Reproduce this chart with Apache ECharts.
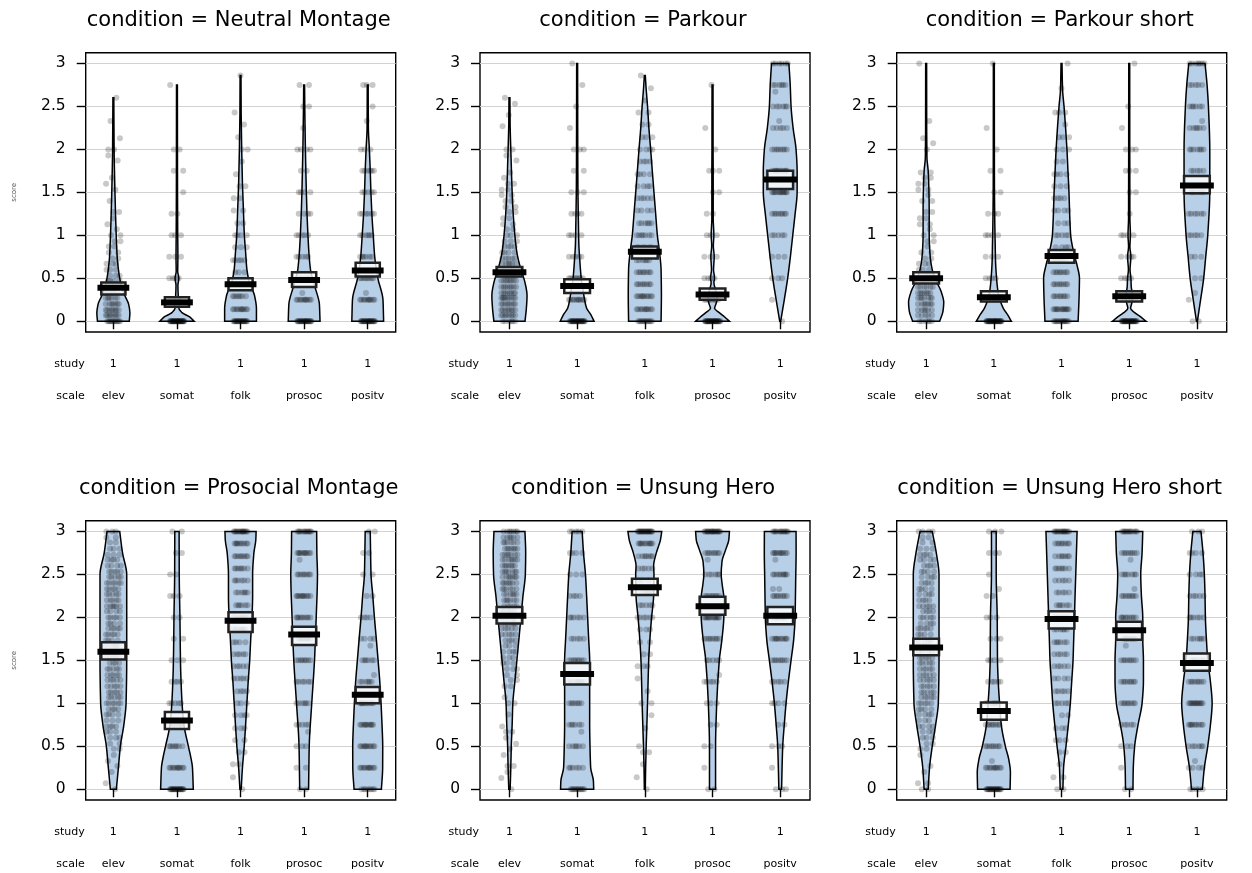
<!DOCTYPE html>
<html><head><meta charset="utf-8">
<script src="https://cdn.jsdelivr.net/npm/echarts@6/dist/echarts.min.js"></script>
<style>html,body{margin:0;padding:0;background:#fff}#c{width:1252px;height:873px}</style>
</head><body><div id="c"></div>
<script>
// ---------- DATA ----------
const conditions = ['Neutral Montage','Parkour','Parkour short','Prosocial Montage','Unsung Hero','Unsung Hero short'];
const scales = ['elev','somat','folk','prosoc','positv'];
const studies = ['1','1','1','1','1'];
const yTicks = [0,0.5,1,1.5,2,2.5,3];
const xTicks = [1,2,3,4,5];

const means = [
  [0.39,0.22,0.43,0.48,0.59],
  [0.57,0.41,0.81,0.31,1.65],
  [0.50,0.28,0.76,0.29,1.58],
  [1.60,0.80,1.96,1.80,1.10],
  [2.02,1.34,2.35,2.13,2.02],
  [1.65,0.91,1.98,1.85,1.47]
];
const ciLow = [
  [0.31,0.17,0.36,0.40,0.52],
  [0.52,0.33,0.73,0.25,1.54],
  [0.44,0.23,0.68,0.23,1.49],
  [1.51,0.70,1.83,1.68,1.00],
  [1.93,1.22,2.26,2.03,1.92],
  [1.56,0.81,1.87,1.74,1.38]
];
const ciHigh = [
  [0.45,0.28,0.50,0.57,0.68],
  [0.63,0.49,0.87,0.38,1.75],
  [0.57,0.35,0.83,0.35,1.69],
  [1.71,0.90,2.06,1.89,1.19],
  [2.12,1.47,2.45,2.24,2.12],
  [1.75,1.01,2.07,1.95,1.58]
];

// points: [score, number of respondents at that score]
const ptsNeutral = [
  [[0,12],[0.07,8],[0.13,8],[0.2,7],[0.27,6],[0.33,5],[0.4,5],[0.47,4],[0.53,3],[0.6,3],[0.67,3],[0.73,2],[0.8,2],[0.87,2],[0.93,2],[1,2],[1.07,1],[1.13,1],[1.2,1],[1.27,2],[1.4,1],[1.53,1],[1.6,1],[1.67,1],[1.87,1],[1.93,1],[2,2],[2.13,1],[2.33,1],[2.6,1]],
  [[0,30],[0.25,8],[0.5,4],[0.75,3],[1,3],[1.25,2],[1.5,1],[1.75,2],[2,2],[2.75,1]],
  [[0,20],[0.14,10],[0.29,7],[0.43,5],[0.57,3],[0.71,5],[0.86,3],[1,4],[1.14,2],[1.29,2],[1.43,2],[1.57,2],[1.71,1],[1.86,1],[2,2],[2.14,1],[2.29,1],[2.43,1],[2.86,1]],
  [[0,22],[0.25,10],[0.33,1],[0.5,6],[0.75,5],[1,5],[1.25,4],[1.5,4],[1.75,2],[2,4],[2.25,1],[2.5,2],[2.75,2]],
  [[0,22],[0.25,10],[0.33,1],[0.5,8],[0.75,6],[1,6],[1.25,6],[1.5,5],[1.75,6],[2,3],[2.33,1],[2.5,1],[2.75,3]]
];
const ptsParkour = [
  [[0,6],[0.07,8],[0.13,8],[0.2,8],[0.27,9],[0.33,8],[0.4,8],[0.47,8],[0.53,7],[0.6,6],[0.67,6],[0.73,5],[0.8,4],[0.87,4],[0.93,3],[1,3],[1.07,2],[1.13,2],[1.2,2],[1.27,2],[1.33,2],[1.4,2],[1.47,2],[1.53,2],[1.6,2],[1.67,1],[1.73,1],[1.87,1],[1.93,1],[2,2],[2.27,1],[2.4,1],[2.53,1],[2.6,1]],
  [[0,25],[0.25,10],[0.5,8],[0.75,5],[1,4],[1.25,4],[1.5,3],[1.75,2],[2,3],[2.25,1],[2.5,1],[2.75,1],[3,1]],
  [[0,12],[0.14,10],[0.29,10],[0.43,8],[0.57,8],[0.71,6],[0.86,6],[1,7],[1.14,6],[1.29,4],[1.43,5],[1.57,4],[1.71,4],[1.86,4],[2,4],[2.14,3],[2.29,2],[2.43,2],[2.57,1],[2.71,1],[2.86,1]],
  [[0,28],[0.25,8],[0.5,4],[0.75,3],[1,3],[1.25,2],[1.5,2],[1.75,3],[2,1],[2.25,1],[2.75,1]],
  [[0,1],[0.25,1],[0.5,3],[0.75,3],[1,5],[1.25,8],[1.5,12],[1.75,10],[2,8],[2.25,5],[2.33,1],[2.5,6],[2.67,1],[2.75,6],[3,6]]
];
const ptsParkourShort = [
  [[0,6],[0.07,5],[0.13,6],[0.2,7],[0.27,7],[0.33,7],[0.4,6],[0.47,6],[0.53,4],[0.6,3],[0.67,3],[0.73,2],[0.8,2],[0.87,1],[0.93,2],[1,2],[1.07,1],[1.13,2],[1.2,2],[1.27,2],[1.4,2],[1.47,1],[1.53,2],[1.6,2],[1.67,2],[1.73,2],[2,1],[2.07,1],[2.13,1],[2.33,1],[3,1]],
  [[0,30],[0.25,6],[0.5,4],[0.75,3],[1,4],[1.25,3],[1.5,2],[1.75,2],[2,1],[2.25,1],[3,1]],
  [[0,14],[0.14,12],[0.29,8],[0.43,8],[0.57,8],[0.71,5],[0.86,4],[1,5],[1.14,3],[1.29,4],[1.43,4],[1.57,3],[1.71,4],[1.86,2],[2,3],[2.14,3],[2.29,1],[2.43,3],[2.71,1],[3,1]],
  [[0,28],[0.25,7],[0.5,4],[0.75,4],[1,4],[1.25,1],[1.5,2],[1.75,3],[2,3],[2.25,1],[2.5,1],[3,1]],
  [[0,2],[0.25,1],[0.33,1],[0.5,2],[0.75,3],[1,5],[1.25,6],[1.5,5],[1.75,5],[2,7],[2.25,6],[2.33,1],[2.5,6],[2.75,5],[3,7]]
];
const ptsProsocial = [
  [[0,1],[0.07,1],[0.2,1],[0.27,1],[0.33,1],[0.4,1],[0.47,2],[0.53,2],[0.6,3],[0.67,3],[0.73,4],[0.8,3],[0.87,4],[0.93,4],[1,6],[1.07,5],[1.13,5],[1.2,5],[1.27,5],[1.33,5],[1.4,5],[1.47,4],[1.53,5],[1.6,4],[1.67,4],[1.73,4],[1.8,5],[1.87,5],[1.93,4],[2,5],[2.07,4],[2.13,6],[2.2,5],[2.27,5],[2.33,5],[2.4,6],[2.47,5],[2.53,5],[2.6,4],[2.67,4],[2.73,3],[2.8,3],[2.87,2],[2.93,2],[3,3]],
  [[0,20],[0.25,10],[0.5,7],[0.75,6],[1,5],[1.25,4],[1.5,3],[1.75,2],[2,2],[2.25,3],[2.5,2],[2.75,2],[3,2]],
  [[0,1],[0.14,1],[0.29,2],[0.43,2],[0.57,2],[0.71,3],[0.86,4],[1,3],[1.14,4],[1.29,5],[1.43,5],[1.57,5],[1.71,4],[1.86,6],[2,7],[2.14,6],[2.29,6],[2.43,6],[2.57,7],[2.71,8],[2.86,9],[3,14]],
  [[0,2],[0.25,2],[0.5,3],[0.67,1],[0.75,5],[1,6],[1.25,6],[1.5,8],[1.75,7],[2,9],[2.25,10],[2.5,8],[2.67,1],[2.75,10],[3,12]],
  [[0,8],[0.25,10],[0.5,10],[0.75,10],[1,9],[1.25,6],[1.33,1],[1.5,6],[1.67,1],[1.75,4],[2,4],[2.25,2],[2.5,2],[2.75,2],[3,2]]
];
const ptsUnsung = [
  [[0,1],[0.13,1],[0.2,1],[0.27,2],[0.4,1],[0.47,1],[0.53,1],[0.6,1],[0.67,2],[0.73,1],[0.87,1],[1,2],[1.07,1],[1.2,2],[1.27,2],[1.33,2],[1.4,3],[1.47,3],[1.53,3],[1.6,4],[1.67,3],[1.73,4],[1.8,5],[1.87,5],[1.93,6],[2,5],[2.07,5],[2.13,5],[2.2,6],[2.27,6],[2.33,6],[2.4,7],[2.47,7],[2.53,7],[2.6,7],[2.67,7],[2.73,7],[2.8,7],[2.87,6],[2.93,6],[3,7]],
  [[0,12],[0.25,6],[0.5,6],[0.67,1],[0.75,6],[1,7],[1.25,7],[1.5,8],[1.75,5],[2,6],[2.25,4],[2.5,3],[2.75,4],[3,5]],
  [[0,1],[0.14,1],[0.29,1],[0.43,2],[0.5,1],[0.71,1],[0.86,1],[1,2],[1.14,1],[1.29,1],[1.43,3],[1.57,2],[1.71,2],[1.86,3],[2,6],[2.14,5],[2.29,4],[2.43,3],[2.57,5],[2.71,7],[2.86,10],[3,20]],
  [[0,2],[0.25,1],[0.5,2],[0.75,2],[1,3],[1.25,5],[1.33,1],[1.5,5],[1.75,8],[2,12],[2.25,8],[2.5,6],[2.67,1],[2.75,8],[3,18]],
  [[0,3],[0.25,1],[0.5,3],[0.75,2],[1,4],[1.25,5],[1.5,8],[1.75,10],[2,10],[2.25,8],[2.33,2],[2.5,9],[2.67,1],[2.75,10],[3,12]]
];
const ptsUnsungShort = [
  [[0,2],[0.07,2],[0.2,1],[0.27,1],[0.4,1],[0.47,2],[0.53,2],[0.6,3],[0.67,3],[0.73,4],[0.8,3],[0.87,4],[0.93,4],[1,5],[1.07,5],[1.13,5],[1.2,5],[1.27,5],[1.33,5],[1.4,5],[1.47,5],[1.53,5],[1.6,4],[1.67,4],[1.73,4],[1.8,4],[1.87,5],[1.93,4],[2,5],[2.07,4],[2.13,5],[2.2,4],[2.27,4],[2.33,4],[2.4,4],[2.47,4],[2.53,4],[2.6,4],[2.67,4],[2.73,4],[2.8,3],[2.87,2],[2.93,2],[3,4]],
  [[0,20],[0.25,10],[0.33,1],[0.5,8],[0.75,8],[1,6],[1.25,5],[1.5,4],[1.75,3],[2,3],[2.25,2],[2.33,1],[2.5,1],[2.75,3],[3,3]],
  [[0,2],[0.14,2],[0.29,1],[0.43,2],[0.57,3],[0.71,3],[0.86,2],[1,5],[1.14,5],[1.29,4],[1.43,5],[1.57,5],[1.71,6],[1.86,6],[2,8],[2.14,6],[2.29,5],[2.43,5],[2.57,7],[2.71,7],[2.86,8],[3,14]],
  [[0,2],[0.25,1],[0.5,3],[0.75,5],[1,8],[1.25,8],[1.5,8],[1.67,1],[1.75,7],[2,9],[2.25,8],[2.33,1],[2.5,7],[2.67,1],[2.75,8],[3,12]],
  [[0,5],[0.25,4],[0.33,1],[0.5,6],[0.75,9],[1,12],[1.25,8],[1.5,6],[1.75,6],[2,6],[2.25,5],[2.5,4],[2.75,4],[3,3]]
];

// violin (density) outlines: [score, half-width in category units]
const densNeutral = [
  [[0,0.25],[0.1,0.26],[0.2,0.24],[0.3,0.18],[0.4,0.13],[0.5,0.1],[0.6,0.08],[0.75,0.06],[1,0.045],[1.5,0.025],[2,0.012],[2.6,0.007]],
  [[0,0.27],[0.05,0.2],[0.1,0.08],[0.15,0.03],[0.22,0.04],[0.3,0.02],[0.42,0.015],[0.5,0.03],[0.58,0.012],[0.75,0.015],[1,0.012],[1.5,0.009],[2,0.008],[2.75,0.007]],
  [[0,0.25],[0.15,0.25],[0.3,0.22],[0.45,0.14],[0.6,0.1],[0.8,0.08],[1,0.06],[1.3,0.045],[1.6,0.03],[2,0.018],[2.4,0.01],[2.86,0.007]],
  [[0,0.25],[0.2,0.24],[0.4,0.17],[0.6,0.1],[0.8,0.075],[1,0.06],[1.25,0.045],[1.5,0.035],[2,0.02],[2.5,0.01],[2.75,0.007]],
  [[0,0.25],[0.25,0.24],[0.5,0.16],[0.75,0.11],[1,0.087],[1.25,0.065],[1.5,0.05],[1.75,0.04],[2,0.026],[2.25,0.01],[2.5,0.008],[2.75,0.007]]
];
const densParkour = [
  [[0,0.23],[0.15,0.25],[0.3,0.26],[0.45,0.23],[0.6,0.17],[0.8,0.11],[1,0.08],[1.25,0.055],[1.5,0.04],[2,0.02],[2.3,0.01],[2.6,0.007]],
  [[0,0.25],[0.08,0.2],[0.15,0.14],[0.25,0.11],[0.35,0.09],[0.5,0.06],[0.7,0.04],[0.9,0.025],[1.1,0.02],[1.5,0.012],[2,0.009],[2.5,0.008],[3,0.007]],
  [[0,0.24],[0.3,0.245],[0.6,0.24],[0.85,0.21],[1,0.185],[1.25,0.16],[1.5,0.135],[1.75,0.11],[2,0.086],[2.25,0.06],[2.5,0.04],[2.7,0.02],[2.86,0.007]],
  [[0,0.25],[0.05,0.18],[0.1,0.1],[0.15,0.03],[0.2,0.05],[0.27,0.07],[0.35,0.05],[0.45,0.02],[0.5,0.03],[0.6,0.015],[0.75,0.025],[0.88,0.012],[1,0.02],[1.2,0.01],[1.5,0.01],[1.75,0.01],[2,0.008],[2.25,0.008],[2.75,0.007]],
  [[0,0.007],[0.25,0.06],[0.5,0.11],[0.75,0.15],[1,0.185],[1.25,0.22],[1.5,0.25],[1.75,0.25],[2,0.234],[2.25,0.19],[2.5,0.16],[2.75,0.148],[3,0.128]]
];
const densParkourShort = [
  [[0,0.2],[0.12,0.25],[0.22,0.26],[0.35,0.22],[0.45,0.16],[0.6,0.09],[0.75,0.06],[1,0.045],[1.3,0.045],[1.55,0.04],[1.75,0.03],[1.9,0.012],[2.2,0.008],[3,0.007]],
  [[0,0.26],[0.08,0.2],[0.15,0.14],[0.25,0.09],[0.35,0.06],[0.5,0.04],[0.7,0.025],[0.9,0.02],[1.1,0.015],[1.5,0.009],[2,0.008],[3,0.007]],
  [[0,0.245],[0.3,0.26],[0.5,0.265],[0.65,0.23],[0.8,0.18],[1,0.135],[1.25,0.12],[1.5,0.11],[1.75,0.095],[2,0.08],[2.25,0.06],[2.5,0.037],[2.7,0.015],[3,0.007]],
  [[0,0.25],[0.05,0.17],[0.1,0.08],[0.15,0.02],[0.22,0.04],[0.3,0.05],[0.4,0.03],[0.5,0.025],[0.6,0.012],[0.75,0.025],[0.87,0.01],[1,0.018],[1.2,0.01],[1.5,0.009],[2,0.008],[3,0.007]],
  [[0,0.007],[0.25,0.054],[0.5,0.1],[0.75,0.13],[1,0.16],[1.5,0.19],[2,0.19],[2.5,0.17],[2.75,0.15],[3,0.12]]
];
const densProsocial = [
  [[0,0.047],[0.25,0.079],[0.5,0.11],[0.75,0.165],[1,0.2],[1.5,0.21],[2,0.21],[2.5,0.21],[2.75,0.144],[3,0.1]],
  [[0,0.257],[0.25,0.244],[0.4,0.21],[0.5,0.18],[0.75,0.11],[1,0.08],[1.5,0.055],[2,0.047],[2.5,0.036],[3,0.034]],
  [[0,0.01],[0.25,0.03],[0.5,0.058],[0.75,0.08],[1,0.1],[1.25,0.12],[1.5,0.144],[1.75,0.16],[2,0.18],[2.25,0.19],[2.5,0.19],[2.75,0.21],[2.9,0.24],[3,0.245]],
  [[0,0.07],[0.5,0.08],[1,0.12],[1.5,0.163],[2,0.19],[2.5,0.21],[2.75,0.2],[3,0.197]],
  [[0,0.215],[0.25,0.235],[0.5,0.236],[0.75,0.225],[1,0.21],[1.25,0.19],[1.5,0.163],[1.75,0.135],[2,0.105],[2.25,0.08],[2.5,0.052],[2.75,0.045],[3,0.04]]
];
const densUnsung = [
  [[0,0.01],[0.25,0.02],[0.5,0.027],[0.75,0.04],[1,0.05],[1.25,0.08],[1.5,0.11],[1.75,0.14],[2,0.17],[2.25,0.2],[2.5,0.235],[2.75,0.24],[3,0.229]],
  [[0,0.245],[0.1,0.24],[0.25,0.2],[0.5,0.19],[0.75,0.185],[1,0.185],[1.25,0.185],[1.5,0.185],[1.75,0.17],[2,0.155],[2.25,0.14],[2.5,0.123],[2.75,0.094],[3,0.074]],
  [[0,0.007],[0.25,0.012],[0.5,0.02],[0.75,0.03],[1,0.04],[1.25,0.048],[1.5,0.057],[1.75,0.075],[2,0.1],[2.25,0.13],[2.5,0.135],[2.6,0.13],[2.75,0.17],[2.9,0.23],[3,0.25]],
  [[0,0.045],[0.5,0.045],[1,0.062],[1.5,0.1],[1.75,0.14],[2,0.167],[2.2,0.17],[2.4,0.14],[2.5,0.128],[2.65,0.14],[2.8,0.2],[2.9,0.24],[3,0.25]],
  [[0,0.02],[0.5,0.037],[0.75,0.06],[1,0.086],[1.25,0.12],[1.5,0.16],[1.75,0.2],[2,0.22],[2.25,0.225],[2.5,0.23],[2.75,0.235],[3,0.234]]
];
const densUnsungShort = [
  [[0,0.03],[0.25,0.05],[0.5,0.09],[0.75,0.14],[1,0.18],[1.5,0.19],[2,0.19],[2.5,0.19],[2.75,0.15],[3,0.09]],
  [[0,0.24],[0.2,0.245],[0.35,0.22],[0.5,0.17],[0.75,0.11],[1,0.085],[1.25,0.065],[1.5,0.054],[2,0.05],[2.5,0.035],[3,0.035]],
  [[0,0.02],[0.25,0.03],[0.5,0.066],[0.75,0.1],[1,0.13],[1.25,0.15],[1.5,0.17],[1.75,0.18],[2,0.19],[2.25,0.2],[2.5,0.21],[2.75,0.22],[3,0.23]],
  [[0,0.055],[0.25,0.06],[0.5,0.08],[0.75,0.13],[1,0.19],[1.25,0.21],[1.5,0.21],[1.75,0.2],[2,0.2],[2.25,0.18],[2.5,0.17],[2.75,0.19],[3,0.2]],
  [[0,0.08],[0.25,0.11],[0.5,0.16],[0.75,0.2],[1,0.225],[1.25,0.2],[1.5,0.16],[1.75,0.14],[2,0.125],[2.25,0.12],[2.5,0.11],[2.75,0.09],[3,0.06]]
];

const pointSets = [ptsNeutral, ptsParkour, ptsParkourShort, ptsProsocial, ptsUnsung, ptsUnsungShort];
const densSets = [densNeutral, densParkour, densParkourShort, densProsocial, densUnsung, densUnsungShort];

// ---------- LAYOUT ----------
const FONT = 'DejaVu Sans';
const panels = [
  {left: 85.7, top: 52.7, width: 310},
  {left: 480, top: 52.7, width: 330},
  {left: 896.7, top: 52.7, width: 330},
  {left: 85.7, top: 520.7, width: 310},
  {left: 480, top: 520.7, width: 330},
  {left: 896.7, top: 520.7, width: 330}
];
const PH = 279.3;
const XMIN = 0.565, XMAX = 5.44, YMIN = -0.125, YMAX = 3.125;
const BEAN_FILL = '#b8cfe8';

function tangents(ys, ws) {
  const n = ys.length, d = [], m = [];
  for (let k = 0; k < n - 1; k++) d.push((ws[k + 1] - ws[k]) / (ys[k + 1] - ys[k]));
  m[0] = d[0]; m[n - 1] = d[n - 2];
  for (let k = 1; k < n - 1; k++) {
    m[k] = (d[k - 1] * d[k] <= 0) ? 0 : 2 / (1 / d[k - 1] + 1 / d[k]);
  }
  return m;
}
function violinPathData(shape, cx, api) {
  const ys = shape.map(s => s[0]), ws = shape.map(s => s[1]);
  const m = tangents(ys, ws);
  const P = (w, y, side) => { const c = api.coord([cx + side * w, y]); return c[0].toFixed(2) + ',' + c[1].toFixed(2); };
  const n = ys.length - 1;
  let d = 'M' + P(ws[0], ys[0], -1);
  for (let k = 0; k < n; k++) {
    const h = ys[k + 1] - ys[k];
    d += 'C' + P(ws[k] + m[k] * h / 3, ys[k] + h / 3, -1) + ' ' + P(ws[k + 1] - m[k + 1] * h / 3, ys[k + 1] - h / 3, -1) + ' ' + P(ws[k + 1], ys[k + 1], -1);
  }
  d += 'L' + P(ws[n], ys[n], 1);
  for (let k = n; k > 0; k--) {
    const h = ys[k] - ys[k - 1];
    d += 'C' + P(ws[k] - m[k] * h / 3, ys[k] - h / 3, 1) + ' ' + P(ws[k - 1] + m[k - 1] * h / 3, ys[k - 1] + h / 3, 1) + ' ' + P(ws[k - 1], ys[k - 1], 1);
  }
  return d + 'Z';
}
function jittered(list, x) {
  const out = [];
  list.forEach(([v, n], li) => {
    for (let k = 0; k < n; k++) {
      const u = ((k + 1) * 0.6180339887 + li * 0.3819660113) % 1;
      out.push([x + (u - 0.5) * 0.24, v]);
    }
  });
  return out;
}

const grid = [], xAxis = [], yAxis = [], series = [], graphic = [];
panels.forEach((pb, p) => {
  grid.push({left: pb.left, top: pb.top, width: pb.width, height: PH, show: true,
    borderColor: '#000', borderWidth: 1.4, backgroundColor: 'transparent'});
  xAxis.push({
    gridIndex: p, type: 'value', min: XMIN, max: XMAX,
    axisLine: {show: false}, splitLine: {show: false},
    axisTick: {show: true, customValues: xTicks, length: 8, lineStyle: {color: '#000', width: 1.4}},
    axisLabel: {
      customValues: xTicks, margin: 16.8,
      formatter: v => '{s|' + studies[Math.round(v) - 1] + '}\n{c|' + scales[Math.round(v) - 1] + '}',
      rich: {
        s: {fontSize: 11, lineHeight: 31.4, fontFamily: FONT, color: '#000'},
        c: {fontSize: 11, lineHeight: 31.4, fontFamily: FONT, color: '#000'}
      }
    }
  });
  yAxis.push({
    gridIndex: p, type: 'value', min: YMIN, max: YMAX,
    axisLine: {show: false},
    axisTick: {show: true, customValues: yTicks, length: 9, lineStyle: {color: '#000', width: 1.4}},
    axisLabel: {customValues: yTicks, margin: 20, fontSize: 15.5, fontFamily: FONT, color: '#000'},
    splitLine: {show: true, lineStyle: {color: '#d2d2d2', width: 1}},
    name: (p % 3 === 0) ? 'score' : '', nameLocation: 'middle', nameGap: 68,
    nameTextStyle: {fontSize: 7, color: '#555', fontFamily: FONT}
  });
  const dens = densSets[p];
  series.push({
    type: 'custom', xAxisIndex: p, yAxisIndex: p, silent: true, z: 2,
    data: scales.map((s, i) => [i + 1, 0]),
    renderItem: (params, api) => ({
      type: 'path',
      shape: {pathData: violinPathData(dens[params.dataIndex], params.dataIndex + 1, api)},
      style: {fill: BEAN_FILL, stroke: '#000', lineWidth: 1.5}
    })
  });
  let pts = [];
  pointSets[p].forEach((lst, i) => { pts = pts.concat(jittered(lst, i + 1)); });
  series.push({
    type: 'scatter', xAxisIndex: p, yAxisIndex: p, silent: true, z: 3,
    symbolSize: 6, data: pts,
    itemStyle: {color: 'rgba(0,0,0,0.27)', borderWidth: 0}
  });
  series.push({
    type: 'custom', xAxisIndex: p, yAxisIndex: p, silent: true, z: 4,
    data: means[p].map((mv, i) => [i + 1, mv, ciLow[p][i], ciHigh[p][i]]),
    renderItem: (params, api) => {
      const x = api.value(0);
      const tl = api.coord([x - 0.19, api.value(3)]);
      const br = api.coord([x + 0.19, api.value(2)]);
      const l = api.coord([x - 0.25, api.value(1)]);
      const r = api.coord([x + 0.25, api.value(1)]);
      return {type: 'group', children: [
        {type: 'rect', shape: {x: tl[0], y: tl[1], width: br[0] - tl[0], height: br[1] - tl[1]},
          style: {fill: 'rgba(255,255,255,0.8)', stroke: '#222', lineWidth: 2.5}},
        {type: 'line', shape: {x1: l[0], y1: l[1], x2: r[0], y2: r[1]},
          style: {stroke: '#000', lineWidth: 6}}
      ]};
    }
  });
  const rowTop = pb.top + PH;
  graphic.push({type: 'text', x: pb.left + pb.width / 2 - 2, y: pb.top - 32.3,
    style: {text: 'condition = ' + conditions[p], fontSize: 21, fontFamily: FONT, fill: '#000', align: 'center', verticalAlign: 'middle'}});
  graphic.push({type: 'text', x: pb.left - 1, y: rowTop + 32.3,
    style: {text: 'study', fontSize: 11, fontFamily: FONT, fill: '#000', align: 'right', verticalAlign: 'middle'}});
  graphic.push({type: 'text', x: pb.left - 1, y: rowTop + 63.7,
    style: {text: 'scale', fontSize: 11, fontFamily: FONT, fill: '#000', align: 'right', verticalAlign: 'middle'}});
});

const chart = echarts.init(document.getElementById('c'), null, {renderer: 'canvas'});
chart.setOption({
  animation: false,
  backgroundColor: '#fff',
  textStyle: {fontFamily: FONT},
  grid, xAxis, yAxis, series, graphic
});
</script></body></html>
